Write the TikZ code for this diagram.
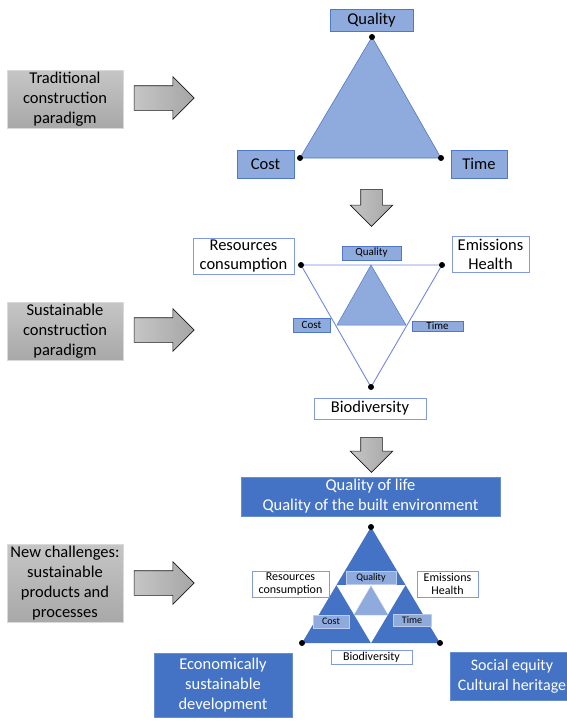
\documentclass[tikz,border=0pt]{standalone}
\usepackage{fontspec}
\setmainfont{Carlito}
\usetikzlibrary{shapes.arrows}
\definecolor{lightbl}{RGB}{143,170,220}
\definecolor{midbl}{RGB}{80,120,200}
\definecolor{darkbl}{RGB}{68,114,196}
\tikzset{
  paradigm/.style={rectangle, top color=gray!45, bottom color=gray!68, draw=gray!30,
    minimum width=116, align=center, inner sep=0, font=\fontsize{16.5}{20}\selectfont},
  bigarrow/.style={single arrow, draw=gray!20!black, line width=0.6, inner xsep=0,
    single arrow head extend=9, single arrow head indent=0},
  lbox/.style={rectangle, fill=lightbl, draw=midbl, line width=0.6, inner sep=0, align=center},
  wbox/.style={rectangle, fill=white, draw=lightbl!90!blue, line width=1, inner sep=0, align=center},
  dbox/.style={rectangle, fill=darkbl, draw=darkbl!80!white, text=white, inner sep=0, align=center,
    font=\fontsize{16.5}{20}\selectfont},
  vdot/.style={circle, fill=black, inner sep=0, minimum size=6}
}
\begin{document}
\begin{tikzpicture}[x=1pt, y=-1pt]
    \useasboundingbox[fill=white] (0,0) rectangle (567,723);
    % left column
    \node[paradigm, minimum height=58] (trad) at (65,99) {Traditional\\construction\\paradigm};
    \node[paradigm, minimum height=58] (sust) at (65,331) {Sustainable\\construction\\paradigm};
    \node[paradigm, minimum height=78] (newc) at (65,583) {New challenges:\\sustainable\\products and\\processes};
    \node[bigarrow, inner ysep=12, minimum height=60, left color=gray!45, right color=gray!70] (arr1) at (158,98) {};
    \node[bigarrow, inner ysep=12, minimum height=60, left color=gray!45, right color=gray!70] (arr2) at (158,330) {};
    \node[bigarrow, inner ysep=12, minimum height=60, left color=gray!45, right color=gray!70] (arr3) at (158,583) {};
    \node[bigarrow, inner ysep=10.5, single arrow head extend=10.5, minimum height=37, rotate=-90,
      left color=gray!45, right color=gray!70] (down1) at (371.5,202.5) {};
    \node[bigarrow, inner ysep=10.5, single arrow head extend=10.5, minimum height=35, rotate=-90,
      left color=gray!45, right color=gray!70] (down2) at (371.5,449.5) {};
    % traditional triangle
    \coordinate (ta) at (372,37);
    \coordinate (tb) at (300,158);
    \coordinate (tc) at (441,158);
    \filldraw[fill=lightbl, draw=midbl, line width=0.6] (ta) -- (tb) -- (tc) -- cycle;
    \node[vdot] at (ta) {};
    \node[vdot] at (tb) {};
    \node[vdot] at (tc) {};
    \node[lbox, minimum width=83, minimum height=22, font=\fontsize{16.5}{20}\selectfont] (tq) at (371.5,20) {Quality};
    \node[lbox, minimum width=57, minimum height=28, font=\fontsize{16.5}{20}\selectfont] (tcost) at (265.5,164) {Cost};
    \node[lbox, minimum width=56, minimum height=28, font=\fontsize{16.5}{20}\selectfont] (ttime) at (479,164) {Time};
    % sustainable triangle
    \coordinate (sa) at (301,265);
    \coordinate (sb) at (442,265);
    \coordinate (sc) at (371,387);
    \draw[lightbl!80!blue, line width=0.9] (sa) -- (sb) -- (sc) -- cycle;
    \filldraw[fill=lightbl, draw=midbl, line width=0.5] (371,265) -- (337,325) -- (406,325) -- cycle;
    \node[vdot] at (sa) {};
    \node[vdot] at (sb) {};
    \node[vdot] at (sc) {};
    \node[lbox, minimum width=59, minimum height=14, font=\fontsize{11}{12}\selectfont] (sq) at (371.5,253) {Quality};
    \node[lbox, minimum width=37, minimum height=14, font=\fontsize{11}{12}\selectfont] (scost) at (311.5,325) {Cost};
    \node[lbox, minimum width=51, minimum height=10, font=\fontsize{11}{12}\selectfont] (stime) at (437.5,326) {Time};
    \node[wbox, minimum width=101, minimum height=36, font=\fontsize{16.5}{19}\selectfont] (sres) at (243.5,256) {Resources\\consumption};
    \node[wbox, minimum width=77, minimum height=36, font=\fontsize{16.5}{19}\selectfont] (semi) at (490.5,254) {Emissions\\Health};
    \node[wbox, minimum width=112, minimum height=21, font=\fontsize{16.5}{19}\selectfont] (sbio) at (370,408.5) {Biodiversity};
    % new challenges triangle
    \coordinate (na) at (371,527);
    \coordinate (nb) at (302,643);
    \coordinate (nc) at (440,643);
    \fill[darkbl] (na) -- (nb) -- (nc) -- cycle;
    \fill[white] (336.5,585) -- (405.5,585) -- (371,643) -- cycle;
    \filldraw[fill=lightbl, draw=lightbl!70!white, line width=0.4] (371,586) -- (354,615) -- (388,615) -- cycle;
    \node[vdot] at (na) {};
    \node[vdot] at (nb) {};
    \node[vdot] at (nc) {};
    \node[dbox, minimum width=259, minimum height=39] (life) at (370.5,496.5) {Quality of life\\Quality of the built environment};
    \node[dbox, minimum width=138, minimum height=64] (econ) at (223,685) {Economically\\sustainable\\development};
    \node[dbox, minimum width=124, minimum height=48, font=\fontsize{16}{20}\selectfont] (soc) at (512,676) {Social equity\\Cultural heritage};
    \node[lbox, draw=lightbl!60!white, minimum width=50, minimum height=13, font=\fontsize{10}{11}\selectfont] (nq) at (371,577.5) {Quality};
    \node[lbox, draw=lightbl!60!white, minimum width=36, minimum height=13, font=\fontsize{10}{11}\selectfont] (ncost) at (331,621.5) {Cost};
    \node[lbox, draw=lightbl!60!white, minimum width=38, minimum height=12, font=\fontsize{10}{11}\selectfont] (ntime) at (412,620) {Time};
    \node[wbox, minimum width=77, minimum height=26, font=\fontsize{12}{13}\selectfont] (nres) at (290.5,584) {Resources\\consumption};
    \node[wbox, minimum width=61, minimum height=26, font=\fontsize{12}{13}\selectfont] (nemi) at (447.5,584) {Emissions\\Health};
    \node[wbox, minimum width=81, minimum height=14, font=\fontsize{12}{13}\selectfont] (nbio) at (371.5,657) {Biodiversity};
\end{tikzpicture}
\end{document}
